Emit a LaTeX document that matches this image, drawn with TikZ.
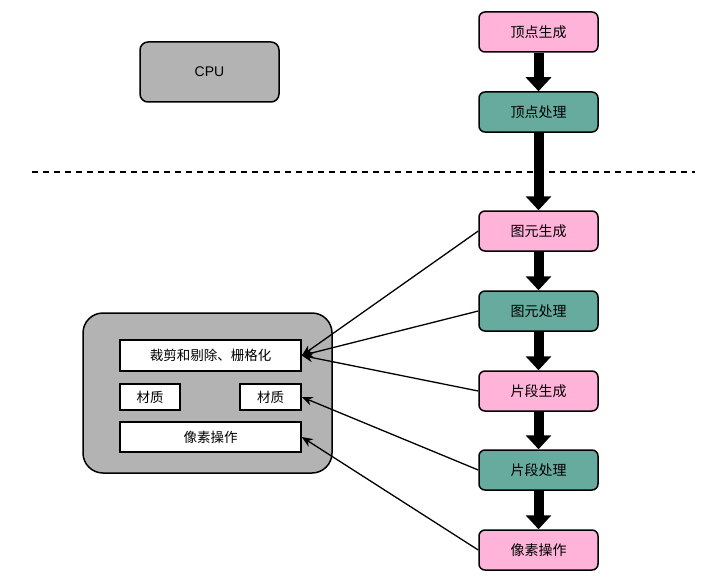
\documentclass[tikz,border=0pt]{standalone}
\usepackage{fontspec}
\setmainfont{Liberation Sans}
\newfontfamily\cjk{Noto Sans CJK SC}
\usetikzlibrary{arrows.meta}
\definecolor{vxpink}{HTML}{FFB3D9}
\definecolor{vxteal}{HTML}{67AB9F}
\definecolor{vxgray}{HTML}{B3B3B3}
\tikzset{
  stagebox/.style={draw=black, line width=1.5pt, rounded corners=6pt, minimum width=119pt, minimum height=40pt, inner sep=0pt, font=\cjk\fontsize{14}{16}\selectfont},
  genbox/.style={stagebox, fill=vxpink},
  procbox/.style={stagebox, fill=vxteal},
  unitbox/.style={draw=black, line width=1.5pt, fill=white, minimum height=31pt, inner sep=0pt, font=\cjk\fontsize{13.5}{16}\selectfont},
  flow/.style={line width=10pt, -{Triangle[width=25pt,length=14pt]}},
  feed/.style={line width=1.3pt, -{Stealth[length=11pt,width=9pt]}}
}
\begin{document}
\begin{tikzpicture}[x=1pt, y=-1pt]
\useasboundingbox (0,0) rectangle (711,583);
% ---- pipeline stages ----
\node[genbox] (vgen) at (538.5,32) {顶点生成};
\node[procbox] (vproc) at (538.5,112) {顶点处理};
\node[genbox] (pgen) at (538.5,231) {图元生成};
\node[procbox] (pproc) at (538.5,311) {图元处理};
\node[genbox] (fgen) at (538.5,391) {片段生成};
\node[procbox] (fproc) at (538.5,470) {片段处理};
\node[genbox] (pixop) at (538.5,550) {像素操作};
\foreach \a/\b in {vgen/vproc, vproc/pgen, pgen/pproc, pproc/fgen, fgen/fproc, fproc/pixop}
  \draw[flow] (\a) -- (\b);
% ---- CPU / GPU split ----
\draw[line width=1.5pt, dash pattern=on 6pt off 5pt] (32,172) -- (695,172);
\node[draw=black, line width=1.5pt, fill=vxgray, rounded corners=8pt, minimum width=139pt, minimum height=60pt, font=\fontsize{14}{16}\selectfont] (cpu) at (209.5,72) {CPU};
% ---- fixed-function units ----
\node[draw=black, line width=1.5pt, fill=vxgray, rounded corners=20pt, minimum width=249pt, minimum height=160pt] (gpu) at (207.5,393) {};
\node[unitbox, minimum width=181pt] (clip) at (210.5,355.5) {裁剪和剔除、栅格化};
\node[unitbox, minimum width=60pt, minimum height=26pt] (matl) at (150,397) {材质};
\node[unitbox, minimum width=61pt, minimum height=26pt] (matr) at (270.5,397) {材质};
\node[unitbox, minimum width=181pt, minimum height=30pt] (pixu) at (210.5,437) {像素操作};
\foreach \s/\t in {pgen/clip, pproc/clip, fgen/clip, fproc/matr, pixop/pixu}
  \draw[feed] (\s.west) -- (\t.east);
\end{tikzpicture}
\end{document}
